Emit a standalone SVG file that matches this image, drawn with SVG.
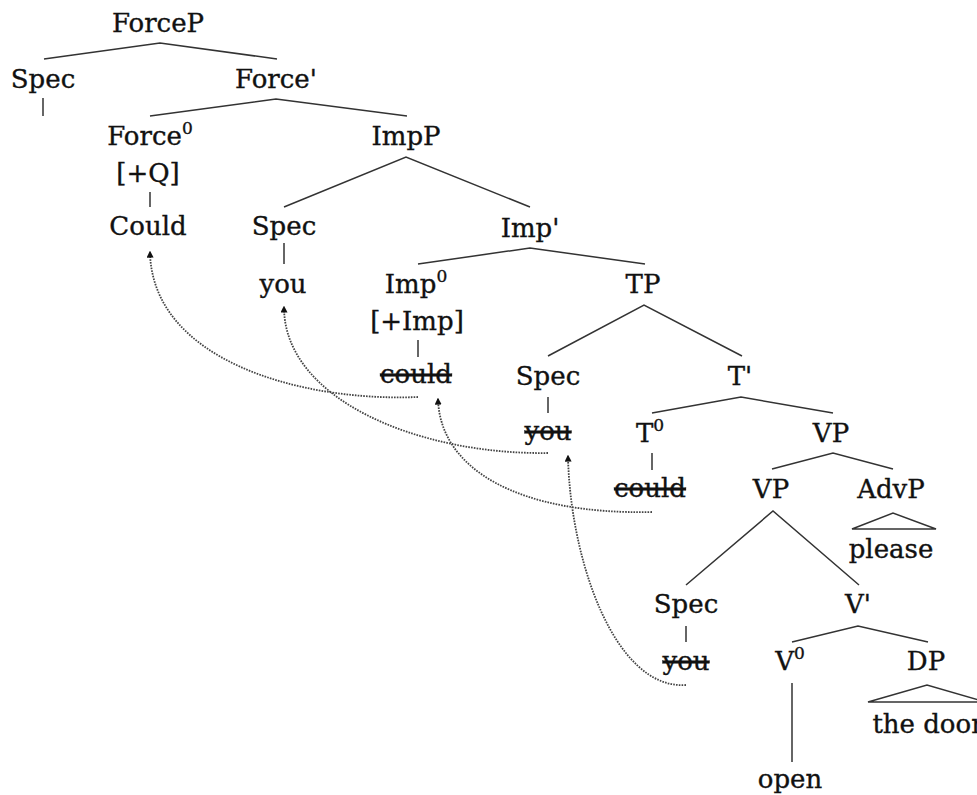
<svg xmlns="http://www.w3.org/2000/svg" width="977" height="795" viewBox="0 0 977 795">
  <style>
    text { font-family: "DejaVu Serif", "Liberation Serif", serif; font-size: 26px; fill: #111; stroke: #111; stroke-width: 0.35; text-anchor: middle; }
    .sup { font-size: 17px; }
    .struck { text-decoration: line-through; }
    .br { stroke: #333; stroke-width: 1.5; fill: none; }
    .tri { stroke: #333; stroke-width: 1.5; fill: none; stroke-linejoin: miter; }
    .mv { stroke: #444; stroke-width: 1.8; fill: none; stroke-dasharray: 1.6 1.2; marker-end: url(#head); }
  </style>
  <defs>
    <marker id="head" viewBox="0 0 10 10" refX="8" refY="5" markerWidth="7" markerHeight="7" markerUnits="userSpaceOnUse" orient="auto">
      <path d="M0,0 L10,5 L0,10 Z" fill="#111"/>
    </marker>
  </defs>

  <!-- tree branches -->
  <g id="branches">
    <path class="br" d="M44,59 L160,43 L277,59"/>
    <path class="br" d="M43,98 V116"/>
    <path class="br" d="M150,116 L276,99 L407,116"/>
    <path class="br" d="M150,192 V207"/>
    <path class="br" d="M284,207 L406,157 L530,207"/>
    <path class="br" d="M284,243 V264"/>
    <path class="br" d="M418,264 L530,248 L645,264"/>
    <path class="br" d="M418,340 V357"/>
    <path class="br" d="M548,356 L644,305 L742,356"/>
    <path class="br" d="M548,397 V413"/>
    <path class="br" d="M652,413 L741,397 L833,413"/>
    <path class="br" d="M652,453 V470"/>
    <path class="br" d="M772,469 L833,453 L893,469"/>
    <path class="tri" d="M852,529 L893,513 L936,529 Z"/>
    <path class="br" d="M686,585 L773,511 L859,585"/>
    <path class="br" d="M686,626 V642"/>
    <path class="br" d="M792,642 L858,626 L928,642"/>
    <path class="br" d="M792,683 V762"/>
    <path class="tri" d="M868,702 L927,685 L986,702 Z"/>
  </g>

  <!-- movement arrows -->
  <g id="connectors">
    <path class="mv" d="M418,397 C300,402 152,360 150,252"/>
    <path class="mv" d="M548,453 C420,455 284,400 284,307"/>
    <path class="mv" d="M652,512 C520,515 440,470 438,399"/>
    <path class="mv" d="M686,685 C615,690 570,560 568,456"/>
  </g>

  <g id="forceP"><text x="158" y="32">ForceP</text></g>
  <g id="spec-force"><text x="43" y="88">Spec</text></g>
  <g id="force-bar"><text x="276" y="88">Force'</text></g>
  <g id="force0"><text x="150" y="145">Force<tspan class="sup" dy="-11">0</tspan></text><text x="148" y="182">[+Q]</text></g>
  <g id="impP"><text x="406" y="145">ImpP</text></g>
  <g id="could-force"><text x="148" y="235">Could</text></g>
  <g id="spec-imp"><text x="284" y="235">Spec</text><text x="283" y="293">you</text></g>
  <g id="imp-bar"><text x="530" y="237">Imp'</text></g>
  <g id="imp0"><text x="416" y="293">Imp<tspan class="sup" dy="-11">0</tspan></text><text x="417" y="330">[+Imp]</text><text class="struck" x="416" y="383">could</text></g>
  <g id="tp"><text x="643" y="293">TP</text></g>
  <g id="spec-t"><text x="548" y="385">Spec</text><text class="struck" x="548" y="440">you</text></g>
  <g id="t-bar"><text x="740" y="385">T'</text></g>
  <g id="t0"><text x="650" y="442">T<tspan class="sup" dy="-11">0</tspan></text><text class="struck" x="650" y="497">could</text></g>
  <g id="vp-upper"><text x="831" y="442">VP</text></g>
  <g id="vp-lower"><text x="771" y="498">VP</text></g>
  <g id="advP"><text x="891" y="498">AdvP</text><text x="891" y="558">please</text></g>
  <g id="spec-v"><text x="686" y="613">Spec</text><text class="struck" x="686" y="670">you</text></g>
  <g id="v-bar"><text x="858" y="613">V'</text></g>
  <g id="v0"><text x="790" y="670">V<tspan class="sup" dy="-11">0</tspan></text><text x="790" y="788">open</text></g>
  <g id="dp"><text x="926" y="670">DP</text><text x="928" y="733">the door</text></g>
</svg>
